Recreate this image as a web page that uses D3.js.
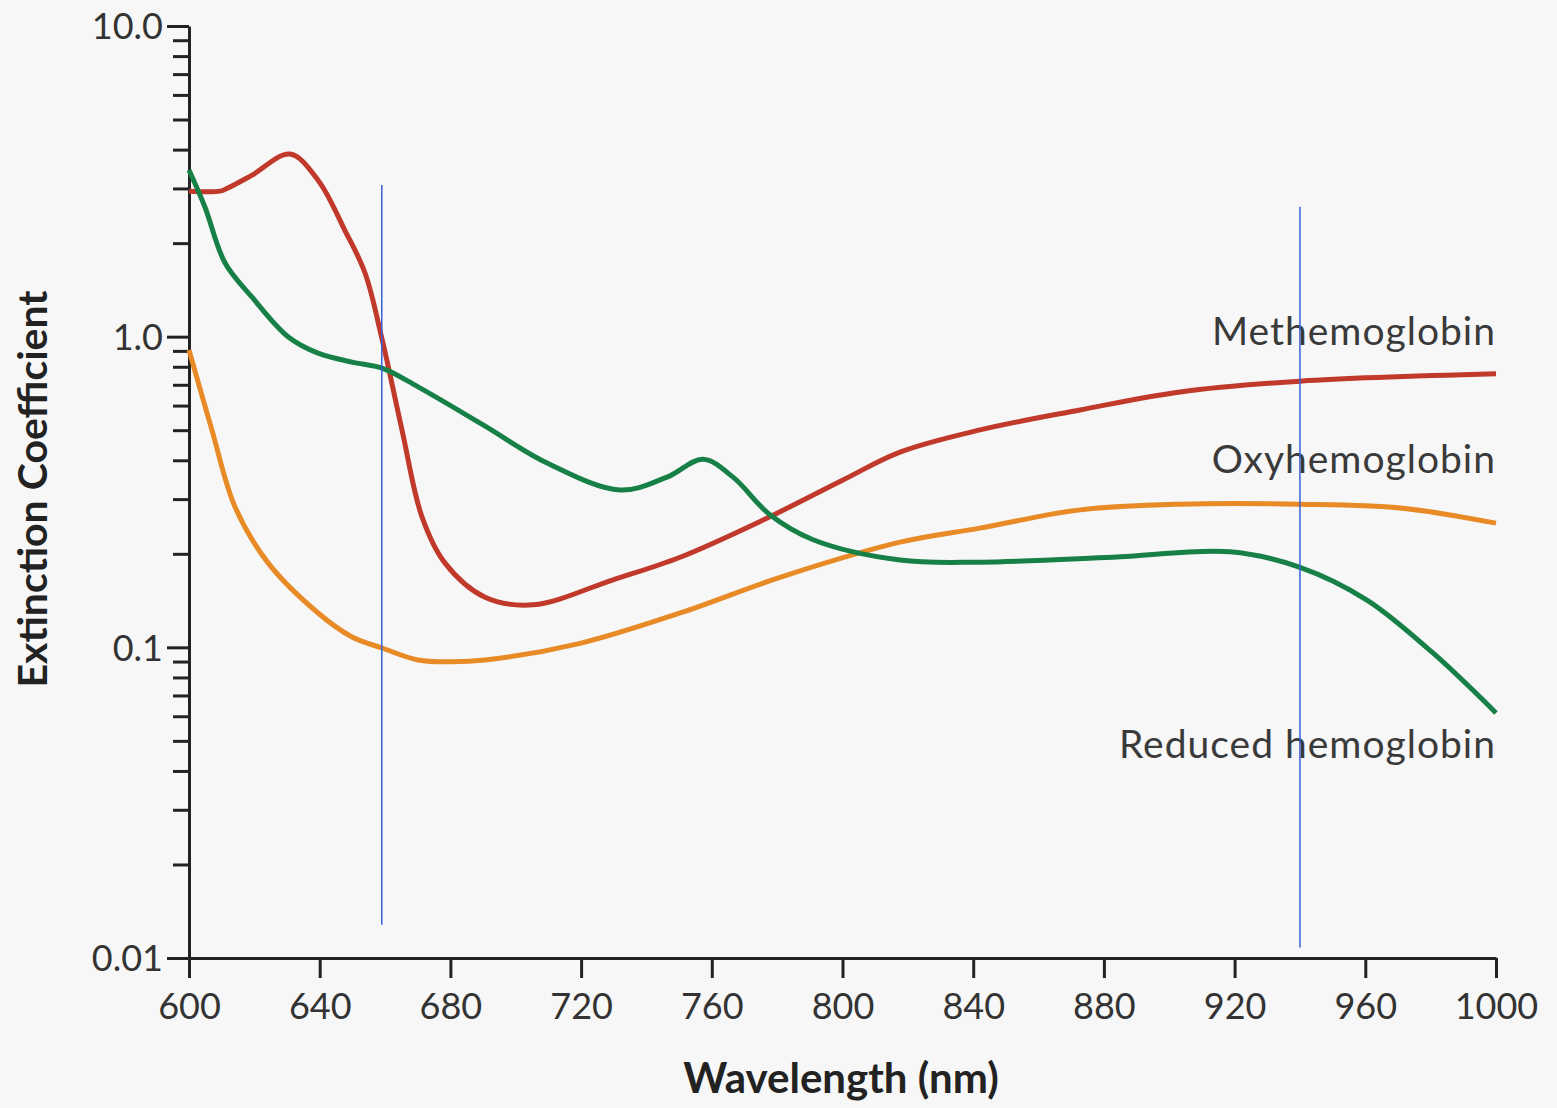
<!DOCTYPE html>
<html>
<head>
<meta charset="utf-8">
<script src="https://cdn.jsdelivr.net/npm/d3@7"></script>
<style>
  html, body { margin: 0; padding: 0; background: #f7f7f7; }
  svg { display: block; }
  text { font-family: Lato, "Open Sans", sans-serif; }
</style>
</head>
<body>
<svg id="chart" width="1557" height="1108"></svg>
<script>
// ---- Data ----
const wavelengthTicks = [600, 640, 680, 720, 760, 800, 840, 880, 920, 960, 1000];
const yMajorTicks = [0.01, 0.1, 1, 10];
const yMajorLabels = ["0.01", "0.1", "1.0", "10.0"];

const methemoglobinNm  = [600, 609.5, 611.9, 619.3, 630.9, 639.5, 647.7, 653.9, 659.1, 665.2, 671.3, 678.3, 690.6, 705.3, 729.8, 750.3, 775.7, 800, 817.6, 842.1, 872.7, 903.3, 940, 1000];
const methemoglobinVal = [2.94, 2.94, 3.01, 3.31, 3.87, 3.19, 2.20, 1.60, 0.98, 0.50, 0.263, 0.187, 0.145, 0.137, 0.165, 0.195, 0.257, 0.345, 0.425, 0.501, 0.581, 0.664, 0.719, 0.759];

const reducedNm  = [600, 604.9, 611, 619.3, 630.3, 639.5, 649.9, 659.1, 670.1, 690, 709.6, 731.9, 746.3, 757.3, 766.5, 777.8, 791, 817.6, 842.1, 882.8, 918.6, 940, 960.5, 980.7, 1000];
const reducedVal = [3.44, 2.61, 1.73, 1.34, 1.00, 0.885, 0.828, 0.792, 0.689, 0.52, 0.392, 0.321, 0.353, 0.403, 0.353, 0.267, 0.222, 0.191, 0.188, 0.195, 0.203, 0.181, 0.142, 0.0959, 0.0615];

const oxyNm  = [600, 607, 614.1, 624.2, 639.5, 649.9, 659.1, 670.1, 680.5, 690.6, 719.7, 750.3, 780.9, 817.6, 842.1, 872.7, 903.3, 940, 970.6, 1000];
const oxyVal = [0.906, 0.501, 0.283, 0.187, 0.129, 0.108, 0.0995, 0.091, 0.0898, 0.091, 0.103, 0.129, 0.168, 0.218, 0.242, 0.277, 0.289, 0.289, 0.281, 0.251];

const seriesNames = ["Methemoglobin", "Oxyhemoglobin", "Reduced hemoglobin"];
const labelValues = [0.94, 0.364, 0.044];

const markerNm = [659, 940];
const markerTop = [3.08, 2.62];
const markerBottom = [0.0128, 0.0108];

// ---- Layout ----
const svg = d3.select("#chart");
const x = d3.scaleLinear().domain([600, 1000]).range([189, 1496]);
const y = d3.scaleLog().domain([0.01, 10]).range([958, 26]);

const axisColor = "#222";
const textColor = "#333";

// minor y ticks
const minorTicks = [];
[0.01, 0.1, 1].forEach(d => { for (let k = 2; k <= 9; k++) minorTicks.push(d * k); });

const yMinor = svg.append("g").attr("transform", "translate(189,0)")
  .call(d3.axisLeft(y).tickValues(minorTicks).tickSize(16).tickSizeOuter(0).tickFormat(""));
yMinor.select(".domain").remove();

const yAxis = svg.append("g").attr("transform", "translate(189,0)")
  .call(d3.axisLeft(y).tickValues(yMajorTicks).tickSize(22).tickSizeOuter(0)
    .tickFormat((d, i) => yMajorLabels[i]));

const xAxis = svg.append("g").attr("transform", "translate(0,958)")
  .call(d3.axisBottom(x).tickValues(wavelengthTicks).tickSize(20).tickSizeOuter(0).tickFormat(d3.format("d")));

[yMinor, yAxis, xAxis].forEach(g => {
  g.selectAll("line").attr("stroke", axisColor).attr("stroke-width", 3);
  g.selectAll(".domain").attr("stroke", axisColor).attr("stroke-width", 3);
});
yAxis.selectAll("text").attr("fill", textColor).style("font-size", "36px")
  .attr("x", -26).attr("dy", "0.36em");
xAxis.selectAll("text").attr("fill", textColor).style("font-size", "36px")
  .attr("y", 35).attr("dy", "0.71em");

// axis titles
svg.append("text").attr("x", 841).attr("y", 1093).attr("text-anchor", "middle")
  .attr("fill", "#222").style("font-size", "42px").style("font-weight", "bold")
  .text("Wavelength (nm)");
svg.append("text").attr("transform", "translate(47,489) rotate(-90)").attr("text-anchor", "middle")
  .attr("fill", "#222").style("font-size", "41px").style("font-weight", "bold")
  .text("Extinction Coefficient");

// curves
const line = d3.line().x(d => x(d[0])).y(d => y(d[1])).curve(d3.curveCatmullRom.alpha(0.5));
const series = [
  { nm: methemoglobinNm, val: methemoglobinVal, color: "#c0392a" },
  { nm: oxyNm, val: oxyVal, color: "#e88a26" },
  { nm: reducedNm, val: reducedVal, color: "#178047" }
];
series.forEach(s => {
  svg.append("path").datum(s.nm.map((n, i) => [n, s.val[i]]))
    .attr("d", line).attr("fill", "none").attr("stroke", s.color)
    .attr("stroke-width", 5).attr("stroke-linejoin", "round");
});

// labels
seriesNames.forEach((name, i) => {
  svg.append("text").attr("x", x(1000)).attr("y", y(labelValues[i]))
    .attr("text-anchor", "end").attr("fill", "#3a3a3a").style("font-size", "39px")
    .style("letter-spacing", "1px")
    .text(name);
});

// blue marker lines
markerNm.forEach((n, i) => {
  svg.append("line").attr("x1", x(n)).attr("x2", x(n))
    .attr("y1", y(markerTop[i])).attr("y2", y(markerBottom[i]))
    .attr("stroke", "#3560d8").attr("stroke-width", 1.5);
});
</script>
</body>
</html>
